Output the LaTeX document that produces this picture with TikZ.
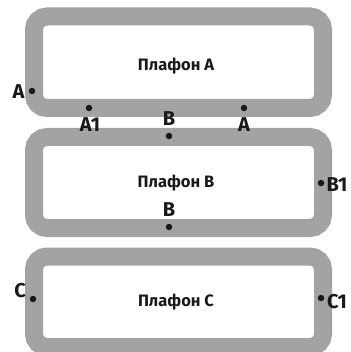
\documentclass[tikz,border=0pt]{standalone}
\usepackage{fontspec}
\setmainfont{Fira Sans}
\definecolor{frame}{HTML}{A3A3A3}
\begin{document}
\begin{tikzpicture}[x=1pt,y=-1pt,
  plafond/.style={draw=frame,line width=18pt,rounded corners=13pt},
  title/.style={font=\fontsize{16.5}{16.5}\selectfont\bfseries,text=black!90,inner sep=0pt},
  lbl/.style={font=\fontsize{20}{20}\selectfont\bfseries,text=black!90,inner sep=0pt},
  pin/.style={circle,fill=black!90,minimum size=6.5pt,inner sep=0pt}]
\useasboundingbox (0,0) rectangle (350,352);
\fill[white] (0,0) rectangle (350,352);
\draw[plafond] (34,16.5) rectangle (323,108);
\draw[plafond] (34,137) rectangle (323,228);
\draw[plafond] (34,256.5) rectangle (323,347);
\node[title] (tA) at (176,66) {Плафон A};
\node[title] (tB) at (176,183) {Плафон B};
\node[title] (tC) at (176,302) {Плафон C};
% pins
\node[pin] (pA) at (32,91) {};
\node[pin] (pA1) at (89,108) {};
\node[pin] (pBt) at (169,136) {};
\node[pin] (pA2) at (244,108) {};
\node[pin] (pB1) at (321,183) {};
\node[pin] (pBb) at (169,227) {};
\node[pin] (pC) at (33,299) {};
\node[pin] (pC1) at (321,298) {};
% labels
\node[lbl] (lA) at (18.5,91.5) {A};
\node[lbl] (lA1) at (90,124.5) {A1};
\node[lbl] (lBt) at (169,119) {B};
\node[lbl] (lA2) at (244,124.5) {A};
\node[lbl] (lB1) at (337,185) {B1};
\node[lbl] (lBb) at (169,210) {B};
\node[lbl] (lC) at (20,290.5) {C};
\node[lbl] (lC1) at (337,302) {C1};
\end{tikzpicture}
\end{document}
